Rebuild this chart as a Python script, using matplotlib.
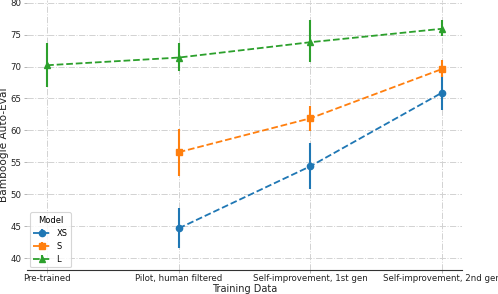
import matplotlib
matplotlib.use("Agg")
import matplotlib.pyplot as plt
import numpy as np

plt.rcParams['font.family'] = 'DejaVu Sans'

stages = ["Pre-trained", "Pilot, human filtered",
          "Self-improvement, 1st gen", "Self-improvement, 2nd gen"]
models = ["XS", "S", "L"]

# 평균값 (없는 단계는 nan)
xs_mean = [np.nan, 44.7, 54.4, 65.9]
s_mean = [np.nan, 56.6, 61.9, 69.6]
l_mean = [70.2, 71.4, 73.8, 75.9]

# 에러바 아래/위 끝
xs_lo = [np.nan, 41.7, 50.9, 63.2]
xs_hi = [np.nan, 47.8, 58.0, 68.6]
s_lo = [np.nan, 52.9, 59.9, 68.4]
s_hi = [np.nan, 60.3, 63.8, 71.0]
l_lo = [66.8, 69.3, 70.7, 74.8]
l_hi = [73.7, 73.6, 77.2, 77.2]

colors = ["#1f77b4", "#ff7f0e", "#2ca02c"]
markers = ["o", "s", "^"]

fig = plt.figure(figsize=(4.98, 2.94), dpi=100)
ax = fig.add_axes([0.055, 0.082, 0.872, 0.918])

x = np.arange(len(stages))
series = [(xs_mean, xs_lo, xs_hi), (s_mean, s_lo, s_hi), (l_mean, l_lo, l_hi)]
for name, (m, lo, hi), c, mk in zip(models, series, colors, markers):
    m = np.array(m)
    err = np.vstack([m - np.array(lo), np.array(hi) - m])
    ax.errorbar(x, m, yerr=err, fmt=mk, linestyle="--", color=c,
                markersize=4.5, linewidth=1.3, elinewidth=1.5,
                capsize=0, label=name)

ax.set_xlim(-0.15, 3.15)
ax.set_ylim(38.2, 80.4)
ax.set_yticks([40, 45, 50, 55, 60, 65, 70, 75, 80])
ax.set_xticks(x)
ax.set_xticklabels(stages)

ax.grid(True, linestyle="-.", color="#d2d2d2", linewidth=0.7)
ax.set_axisbelow(True)
for sp in ["top", "right", "left"]:
    ax.spines[sp].set_visible(False)
ax.spines["bottom"].set_color("#333333")
ax.spines["bottom"].set_linewidth(0.8)

ax.tick_params(axis="both", labelsize=6.2, length=2.5, width=0.6,
               color="#aaaaaa", pad=2, labelcolor="#222222")
ax.tick_params(axis="x", length=2, pad=1)
ax.set_xlabel("Training Data", fontsize=7, labelpad=0.5, color="#222222")
ax.set_ylabel("Bamboogle Auto-Eval", fontsize=7.6, color="#222222")
ax.yaxis.set_label_coords(-0.043, 0.463)

leg = ax.legend(title="Model", loc="lower left", fontsize=6, title_fontsize=6,
                frameon=True, borderpad=0.4, handlelength=2.0,
                labelspacing=0.5, borderaxespad=0.3)
leg.get_frame().set_edgecolor("#cccccc")
leg.get_frame().set_linewidth(0.8)

fig.savefig("out.png", dpi=100)
